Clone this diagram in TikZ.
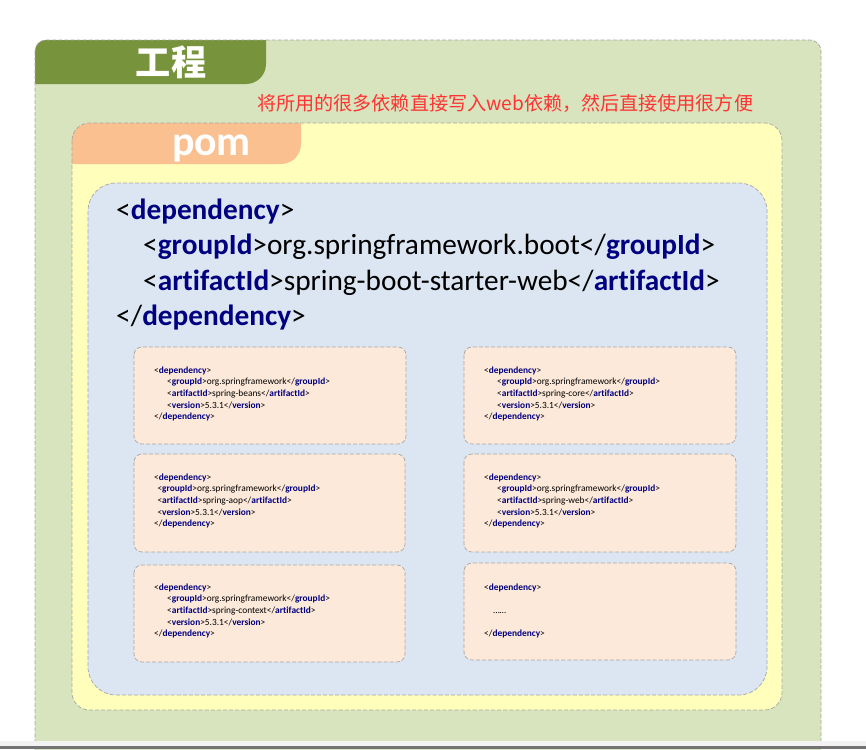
\documentclass[tikz,border=0pt]{standalone}
\usepackage{fontspec}
\setmainfont{Carlito}[Ligatures={NoCommon,NoContextual,NoRequired}]
\newfontfamily\cjk{Noto Sans CJK SC}
\usetikzlibrary{calc,positioning}
\definecolor{projgreen}{HTML}{D7E4BD}
\definecolor{projtab}{HTML}{77933C}
\definecolor{pomyellow}{HTML}{FFFFBB}
\definecolor{pomtab}{HTML}{FAC090}
\definecolor{depblue}{HTML}{DCE6F2}
\definecolor{subdep}{HTML}{FDE9D9}
\definecolor{framegray}{HTML}{A6A6A6}
\definecolor{tagblue}{HTML}{000080}
\definecolor{notered}{HTML}{FF3333}
\definecolor{lightband}{HTML}{F2F2F2}
\definecolor{darkband}{HTML}{737373}
\newcommand{\tg}[1]{\textbf{\textcolor{tagblue}{#1}}}

\begin{document}
\begin{tikzpicture}[x=0.03cm,y=-0.03cm,
  frame/.style={draw=framegray,line width=0.6pt,dash pattern=on 3.5pt off 1.7pt},
  bigline/.style={anchor=base west,inner sep=0pt,font=\fontsize{25}{30}\selectfont},
  smallcode/.style={anchor=west,inner sep=0pt,align=left,font=\fontsize{8}{10}\selectfont},
  subbox/.style={frame,fill=subdep,rounded corners=6.8pt}]
  \useasboundingbox (0,0) rectangle (866,749);
  \clip (0,0) rectangle (866,749);
  \fill[white] (0,0) rectangle (866,749);

  % project
  \fill[projgreen,rounded corners=9.4pt] (35,40) rectangle (821,770);
  \begin{scope}
    \clip[rounded corners=9.4pt] (35,40) rectangle (821,770);
    \fill[projtab,rounded corners=17pt] (0,0) rectangle (266,84);
  \end{scope}
  \draw[frame,rounded corners=9.4pt] (35,40) rectangle (821,770);
  \node[font=\cjk\bfseries\fontsize{30}{30}\selectfont,text=white] (projtitle) at (171,62) {工程};
  \node[font=\cjk\fontsize{16.3}{18}\selectfont,text=notered,anchor=west,inner sep=0pt] (note) at (257,103) {将所用的很多依赖直接写入web依赖，然后直接使用很方便};

  % pom
  \fill[pomyellow,rounded corners=15pt] (72,123) rectangle (782,710);
  \begin{scope}
    \clip[rounded corners=15pt] (72,123) rectangle (782,710);
    \fill[pomtab,rounded corners=17pt] (40,90) rectangle (301,164);
  \end{scope}
  \draw[frame,rounded corners=15pt] (72,123) rectangle (782,710);
  \node[font=\bfseries\fontsize{35.7}{36}\selectfont,text=white,anchor=base,inner sep=0pt] (pomtitle) at (211.5,155) {pom};

  % web dependency
  \filldraw[frame,fill=depblue,rounded corners=24pt] (88,183) rectangle (767,695);
  \node[bigline] (webdep) at (116,219) {<\tg{dependency}>};
  \node[bigline] (webgroup) at (143,254) {<\tg{groupId}>org.springframework.boot</\tg{groupId}>};
  \node[bigline] (webartifact) at (143,290) {<\tg{artifactId}>spring-boot-starter-web</\tg{artifactId}>};
  \node[bigline] (webend) at (116,325) {</\tg{dependency}>};

  % included dependencies
  \filldraw[subbox] (134,347) rectangle (406,444);
  \filldraw[subbox] (464,347) rectangle (736,444);
  \filldraw[subbox] (134,454) rectangle (405,552);
  \filldraw[subbox] (464,454) rectangle (736,552);
  \filldraw[subbox] (134,565) rectangle (405,662);
  \filldraw[subbox] (464,563) rectangle (736,660);

  \node[smallcode] (beans) at (154,394) {<\tg{dependency}>\\
    \hspace*{11.1pt}<\tg{groupId}>org.springframework</\tg{groupId}>\\
    \hspace*{11.1pt}<\tg{artifactId}>spring-beans</\tg{artifactId}>\\
    \hspace*{11.1pt}<\tg{version}>5.3.1</\tg{version}>\\
    </\tg{dependency}>};
  \node[smallcode] (core) at (484,394) {<\tg{dependency}>\\
    \hspace*{11.1pt}<\tg{groupId}>org.springframework</\tg{groupId}>\\
    \hspace*{11.1pt}<\tg{artifactId}>spring-core</\tg{artifactId}>\\
    \hspace*{11.1pt}<\tg{version}>5.3.1</\tg{version}>\\
    </\tg{dependency}>};
  \node[smallcode] (aop) at (154,501) {<\tg{dependency}>\\
    \hspace*{2.8pt}<\tg{groupId}>org.springframework</\tg{groupId}>\\
    \hspace*{2.8pt}<\tg{artifactId}>spring-aop</\tg{artifactId}>\\
    \hspace*{2.8pt}<\tg{version}>5.3.1</\tg{version}>\\
    </\tg{dependency}>};
  \node[smallcode] (web) at (484,501) {<\tg{dependency}>\\
    \hspace*{11.1pt}<\tg{groupId}>org.springframework</\tg{groupId}>\\
    \hspace*{11.1pt}<\tg{artifactId}>spring-web</\tg{artifactId}>\\
    \hspace*{11.1pt}<\tg{version}>5.3.1</\tg{version}>\\
    </\tg{dependency}>};
  \node[smallcode] (context) at (154,611) {<\tg{dependency}>\\
    \hspace*{11.1pt}<\tg{groupId}>org.springframework</\tg{groupId}>\\
    \hspace*{11.1pt}<\tg{artifactId}>spring-context</\tg{artifactId}>\\
    \hspace*{11.1pt}<\tg{version}>5.3.1</\tg{version}>\\
    </\tg{dependency}>};
  \node[smallcode] (more) at (484,611) {<\tg{dependency}>\\
    \mbox{}\\
    \hspace*{7.7pt}……\\
    \mbox{}\\
    </\tg{dependency}>};

  % window edge
  \fill[lightband] (0,741) rectangle (866,746);
  \fill[darkband] (0,746) rectangle (866,749);
\end{tikzpicture}
\end{document}
